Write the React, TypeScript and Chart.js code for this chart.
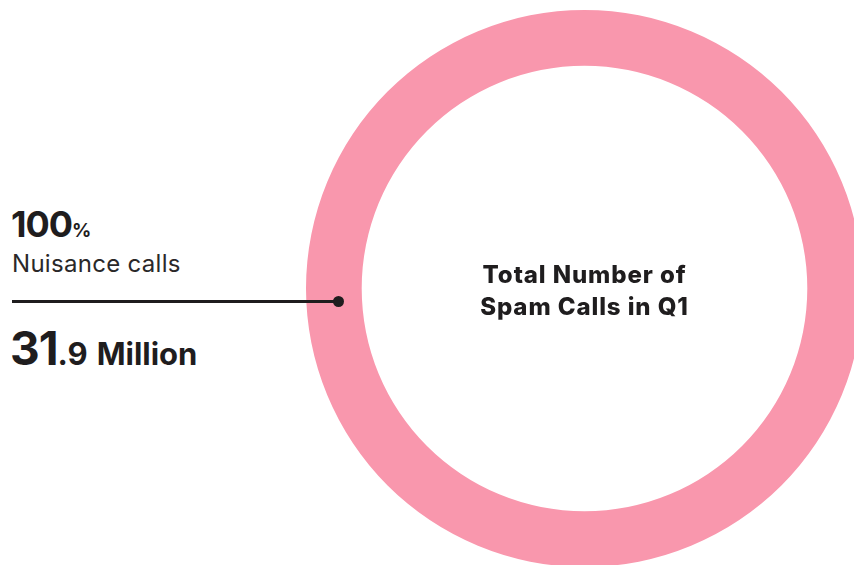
import React, { useEffect, useRef } from "react";
import { Chart, registerables } from "chart.js";

Chart.register(...registerables);

const categories = ["Nuisance calls"];
const shareValues = [100];
const countWhole = "31";
const countDecimal = ".9";
const countUnit = "Million";
const centerLines = ["Total Number of", "Spam Calls in Q1"];
const ringColors = ["#F997AD"];

const FONT = "Inter, 'Open Sans', sans-serif";

const centerTextPlugin = {
  id: "centerText",
  afterDraw(chart: any) {
    const { ctx, chartArea } = chart;
    const cx = (chartArea.left + chartArea.right) / 2;
    const cy = (chartArea.top + chartArea.bottom) / 2;
    ctx.save();
    ctx.fillStyle = "#1f1d1e";
    ctx.font = `800 24px ${FONT}`;
    try {
      (ctx as any).letterSpacing = "0.9px";
    } catch (e) {}
    ctx.textAlign = "center";
    ctx.textBaseline = "alphabetic";
    ctx.fillText(centerLines[0], cx, cy - 5.5);
    ctx.fillText(centerLines[1], cx, cy + 26.5);
    ctx.restore();
  },
};

export default function App() {
  const ref = useRef<HTMLCanvasElement | null>(null);

  useEffect(() => {
    if (!ref.current) return;
    const chart = new Chart(ref.current, {
      type: "doughnut",
      data: {
        labels: categories,
        datasets: [
          {
            data: shareValues,
            backgroundColor: ringColors,
            borderWidth: 0,
            hoverOffset: 0,
          },
        ],
      },
      options: {
        responsive: true,
        maintainAspectRatio: false,
        animation: false,
        cutout: "80%",
        layout: { padding: 0 },
        plugins: {
          legend: { display: false },
          tooltip: { enabled: false },
        },
      },
      plugins: [centerTextPlugin],
    });
    return () => chart.destroy();
  }, []);

  return (
    <div
      style={{
        position: "fixed",
        left: 0,
        top: 0,
        width: 854,
        height: 565,
        overflow: "hidden",
        background: "#fff",
        fontFamily: FONT,
        color: "#1f1d1e",
      }}
    >
      <div
        style={{
          position: "absolute",
          left: 305.5,
          top: 10,
          width: 557,
          height: 557,
        }}
      >
        <canvas ref={ref} />
      </div>

      <div
        style={{
          position: "absolute",
          left: 11,
          top: 206,
          whiteSpace: "nowrap",
          lineHeight: 1,
        }}
      >
        <span style={{ fontSize: 36, fontWeight: 700, letterSpacing: -1 }}>
          {shareValues[0]}
        </span>
        <span style={{ fontSize: 19, fontWeight: 700 }}>%</span>
      </div>

      <div
        style={{
          position: "absolute",
          left: 12,
          top: 252,
          fontSize: 24,
          fontWeight: 400,
          letterSpacing: 0.3,
          color: "#2a2829",
          whiteSpace: "nowrap",
          lineHeight: 1,
        }}
      >
        {categories[0]}
      </div>

      <div
        style={{
          position: "absolute",
          left: 12,
          top: 300,
          width: 326,
          height: 2.5,
          background: "#1f1d1e",
        }}
      />
      <div
        style={{
          position: "absolute",
          left: 333,
          top: 296,
          width: 11,
          height: 11,
          borderRadius: "50%",
          background: "#1f1d1e",
        }}
      />

      <div
        style={{
          position: "absolute",
          left: 10,
          top: 325,
          whiteSpace: "nowrap",
          lineHeight: 1,
        }}
      >
        <span style={{ fontSize: 46, fontWeight: 700, letterSpacing: -1 }}>
          {countWhole}
        </span>
        <span style={{ fontSize: 31, fontWeight: 700 }}>{countDecimal}</span>
        <span style={{ fontSize: 31, fontWeight: 700, marginLeft: 9 }}>
          {countUnit}
        </span>
      </div>
    </div>
  );
}
